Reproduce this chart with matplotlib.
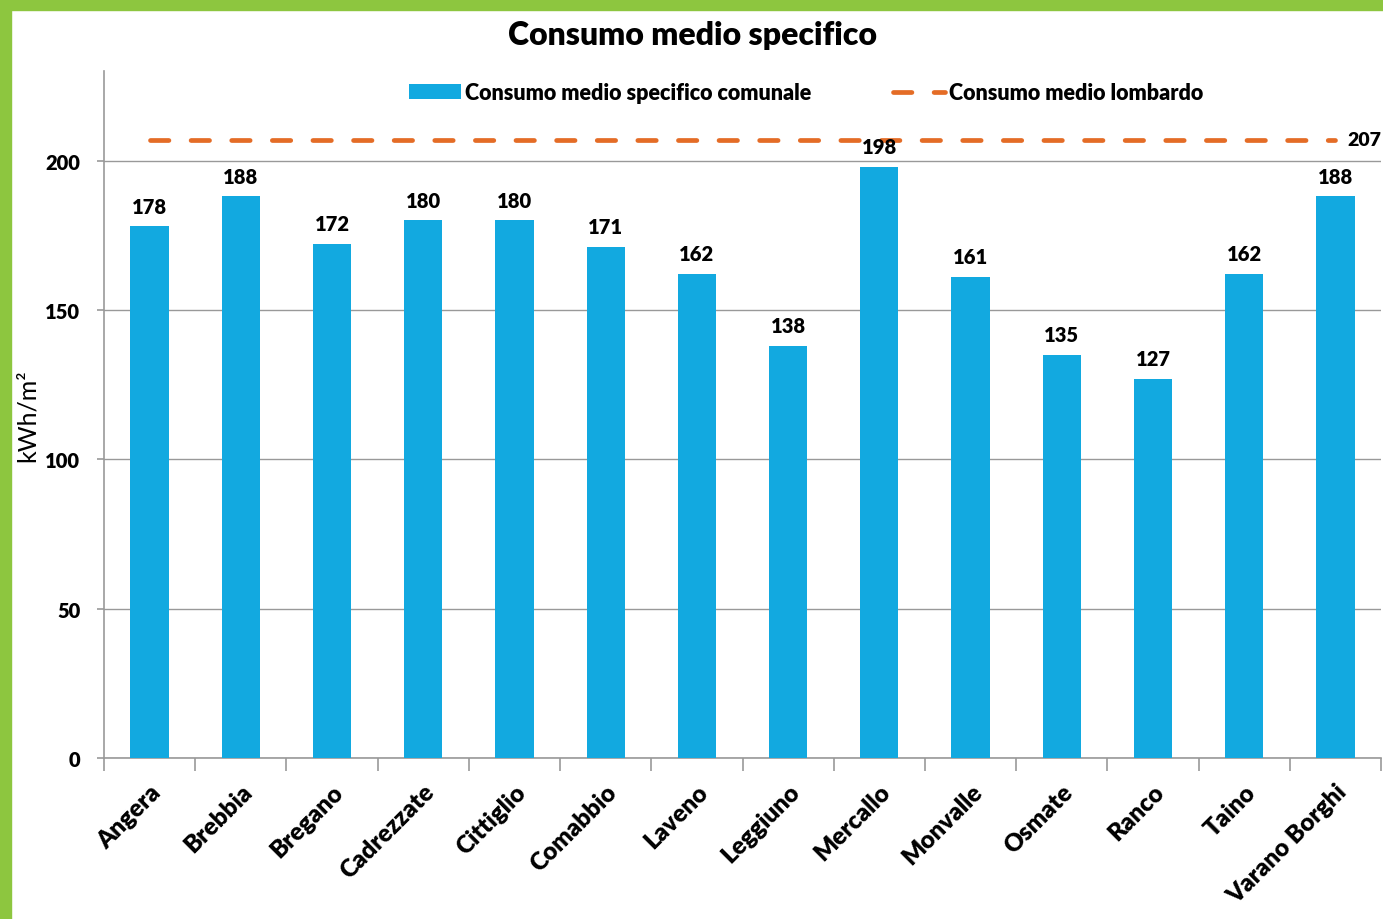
import numpy as np
import matplotlib.pyplot as plt
from matplotlib.patches import Rectangle

comuni = ['Angera', 'Brebbia', 'Bregano', 'Cadrezzate', 'Cittiglio', 'Comabbio',
          'Laveno', 'Leggiuno', 'Mercallo', 'Monvalle', 'Osmate', 'Ranco',
          'Taino', 'Varano Borghi']
consumo_comunale = [178, 188, 172, 180, 180, 171, 162, 138, 198, 161, 135, 127, 162, 188]
consumo_lombardo = 207

plt.rcParams['font.family'] = ['Lato', 'DejaVu Sans']

blue = '#12A9E0'
orange = '#E46C26'
green = '#8DC63F'
bold = 'heavy'

fig = plt.figure(figsize=(13.83, 9.2), dpi=100)
# green frame on left and top
fig.patches.append(Rectangle((0, 0), 11 / 1383, 1, transform=fig.transFigure,
                             color=green, zorder=0))
fig.patches.append(Rectangle((0, 1 - 11 / 920), 1, 11 / 920, transform=fig.transFigure,
                             color=green, zorder=0))

ax = fig.add_axes([104 / 1383, 161 / 920, 1277 / 1383, 687 / 920])
x = np.arange(len(comuni))

bars = ax.bar(x, consumo_comunale, width=0.42, color=blue, zorder=3,
              label='Consumo medio specifico comunale')
line, = ax.plot([x[0], x[-1]], [consumo_lombardo] * 2, color=orange, lw=3.4,
                dashes=(3.9, 4.7), dash_capstyle='round', zorder=4,
                label='Consumo medio lombardo')

for xi, v in zip(x, consumo_comunale):
    ax.text(xi, v + 3.6, str(v), ha='center', va='bottom', fontsize=14.5,
            fontweight=bold, zorder=5)
ax.text(x[-1] + 0.13, consumo_lombardo, str(consumo_lombardo), ha='left',
        va='center', fontsize=14, fontweight=bold, clip_on=False)

ax.set_xlim(-0.5, len(comuni) - 0.5)
ax.set_ylim(0, 230)
ax.set_yticks([0, 50, 100, 150, 200])
ax.yaxis.grid(True, color='#999999', lw=1, zorder=0)
ax.set_axisbelow(True)

ax.set_xticks(np.arange(-0.5, len(comuni), 1.0))
ax.set_xticklabels([])
ax.set_xticks(x, minor=True)
ax.set_xticklabels(comuni, minor=True, rotation=45, ha='right',
                   rotation_mode='anchor', fontsize=17.5, fontweight=bold)
ax.tick_params(axis='x', which='major', length=9, color='#999999', width=1.2)
ax.tick_params(axis='x', which='minor', length=0, pad=16)
ax.tick_params(axis='y', length=5, color='#999999', width=1.2, labelsize=14.5,
               pad=12)
for lbl in ax.get_yticklabels():
    lbl.set_fontweight(bold)

for s in ['top', 'right']:
    ax.spines[s].set_visible(False)
for s in ['left', 'bottom']:
    ax.spines[s].set_color('#999999')
    ax.spines[s].set_linewidth(1.2)

fig.text(27 / 1383, 1 - 416 / 920, 'kWh/m²', rotation=90, ha='center',
         va='center', fontsize=18)

fig.text(693 / 1383, 1 - 36 / 920, 'Consumo medio specifico', ha='center',
         va='center', fontsize=23, fontweight=bold)

leg = ax.legend(handles=[bars, line], loc='center', bbox_to_anchor=(0.55, 0.968),
                ncol=2, frameon=False, fontsize=15.5, columnspacing=3.8,
                handlelength=2.4, handletextpad=0.2)
for t in leg.get_texts():
    t.set_fontweight(bold)

fig.savefig('out.png', dpi=100)
